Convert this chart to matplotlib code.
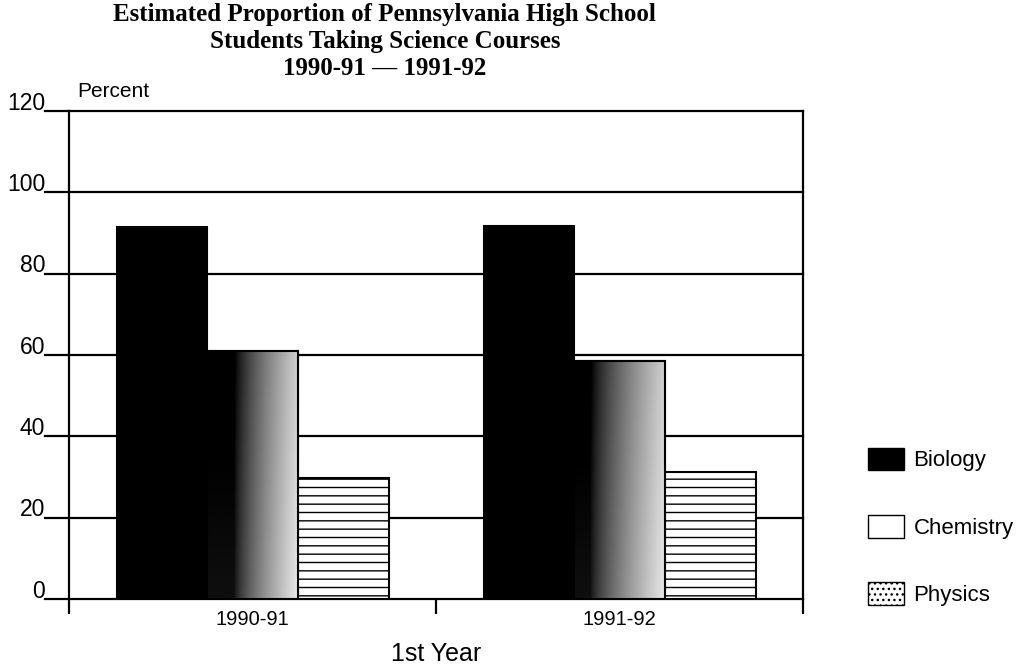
import numpy as np
import matplotlib
matplotlib.use("Agg")
import matplotlib.pyplot as plt
from matplotlib.patches import Patch
from matplotlib.transforms import blended_transform_factory

# Data
years = ["1990-91", "1991-92"]
subjects = ["Biology", "Chemistry", "Physics"]
biology = [91.5, 91.7]
chemistry = [61.0, 58.5]
physics = [29.7, 31.2]
y_ticks = [0, 20, 40, 60, 80, 100, 120]

plt.rcParams['font.family'] = ['Liberation Sans', 'DejaVu Sans']

fig = plt.figure(figsize=(10.26, 6.66), dpi=100)
ax = fig.add_axes([0.0673, 0.1006, 0.7154, 0.7327])

x = np.arange(len(years))
w = 0.247
edge_kw = dict(edgecolor="black", linewidth=1.5)

# Horizontal gridlines behind bars
for t in y_ticks[1:]:
    ax.axhline(t, color="black", linewidth=1.6, zorder=1, clip_on=False)

b_bio = ax.bar(x - w, biology, w, color="black", zorder=3, **edge_kw)
b_chem = ax.bar(x, chemistry, w, color="white", zorder=3, **edge_kw)
b_phys = ax.bar(x + w, physics, w, color="white", hatch="--", zorder=3, **edge_kw)

# Chemistry bars: dark-to-light shading across the bar width
for k, rect in enumerate(b_chem):
    x0 = rect.get_x()
    x1 = x0 + rect.get_width()
    h = rect.get_height()
    u = np.linspace(0, 1, 200)
    start = 0.30 if k == 0 else 0.18
    ramp = np.clip((u - start) / (1.0 - start), 0, 1) ** 0.7 * 0.85
    yy = np.linspace(0, 1, 100)[:, None]
    img = np.clip(ramp[None, :] + 0.10 * (1 - yy) - 0.04, 0, 0.9)
    im = ax.imshow(img, extent=[x0, x1, 0, h], aspect="auto", cmap="gray",
                   vmin=0, vmax=1, origin="lower", zorder=3.5,
                   interpolation="bilinear")
    im.set_clip_path(rect)
    ax.bar(x0, h, rect.get_width(), align="edge", fill=False,
           edgecolor="black", linewidth=1.5, zorder=4)

ax.set_xlim(-0.5, 1.5)
ax.set_ylim(0, 120)

# Spines
ax.spines["top"].set_visible(False)
for s in ["left", "right", "bottom"]:
    ax.spines[s].set_linewidth(1.6)

# Y ticks drawn as outward lines with labels sitting on them
ax.set_yticks(y_ticks)
ax.tick_params(axis="y", length=0, labelleft=False)
line_tr = blended_transform_factory(ax.transAxes, ax.transData)
text_tr = blended_transform_factory(fig.transFigure, ax.transData)
for t in y_ticks:
    ax.plot([-0.033, 0.0], [t, t], color="black", linewidth=1.6,
            transform=line_tr, clip_on=False, zorder=5)
    fig.text(0.0440, t + 0.3, str(t), transform=text_tr, ha="right",
             va="baseline", fontsize=16.5)

# X ticks at category boundaries, labels at centers
ax.set_xticks([-0.5, 0.5, 1.5])
ax.set_xticklabels([])
ax.tick_params(axis="x", direction="out", length=11, width=1.6)
for xi, lbl in zip(x, years):
    ax.text(xi, -2.8, lbl, ha="center", va="top", fontsize=14.5)

ax.text(0.5, -0.113, "1st Year", transform=ax.transAxes, ha="center",
        va="center", fontsize=18)
ax.text(0.011, 1.02, "Percent", transform=ax.transAxes, ha="left",
        va="bottom", fontsize=15)

fig.text(0.375, 0.995,
         "Estimated Proportion of Pennsylvania High School\n"
         "Students Taking Science Courses\n"
         "1990-91 \u2014 1991-92",
         ha="center", va="top", fontsize=18, fontweight="bold",
         family=["Liberation Serif", "DejaVu Serif"], linespacing=1.2)

handles = [
    Patch(facecolor="black", edgecolor="black", label="Biology"),
    Patch(facecolor="white", edgecolor="black", label="Chemistry"),
    Patch(facecolor="white", edgecolor="black", hatch="...", label="Physics"),
]
fig.legend(handles=handles, loc="upper left", bbox_to_anchor=(0.846, 0.328),
           frameon=False, fontsize=16, handlelength=1.6, handleheight=1.2,
           labelspacing=1.95, handletextpad=0.45, borderaxespad=0,
           borderpad=0)

fig.savefig("out.png", dpi=100, facecolor="white")
